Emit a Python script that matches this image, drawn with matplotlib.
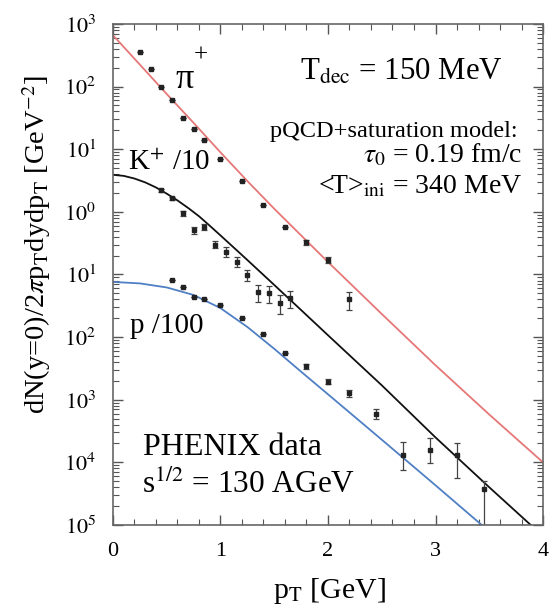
import numpy as np
import matplotlib
matplotlib.use("Agg")
import matplotlib.pyplot as plt
from matplotlib.ticker import LogLocator, MultipleLocator, FixedLocator, FixedFormatter, NullFormatter

plt.rcParams['font.family'] = ['Liberation Serif', 'DejaVu Serif']
plt.rcParams['mathtext.fontset'] = 'stix'

# Model curves (hydro with pQCD+saturation initial conditions), sampled in pT [GeV]
pion_curve_pt = [0.0, 0.25, 0.5, 0.75, 1.0, 1.25, 1.5, 1.75, 2.0, 2.5, 3.0, 3.5, 4.0]
pion_curve = [660, 224, 76, 26.3, 8.9, 3.1, 1.12, 0.42, 0.158, 0.0234, 0.00355, 0.00058, 0.0001]
kaon_curve_pt = [0.0, 0.1, 0.2, 0.3, 0.4, 0.5, 0.6, 0.7, 0.8, 0.9, 1.0, 1.25, 1.5, 1.75, 2.0,
                 2.5, 3.0, 3.5, 3.9]
kaon_curve = [3.9, 3.75, 3.4, 2.95, 2.45, 1.95, 1.52, 1.15, 0.85, 0.60, 0.42, 0.17, 0.068, 0.027,
              0.0107, 0.0017, 0.00025, 0.00004, 0.0000095]
proton_curve_pt = [0.0, 0.25, 0.5, 0.75, 1.0, 1.25, 1.5, 1.75, 2.0, 2.5, 3.0, 3.43]
proton_curve = [0.076, 0.072, 0.062, 0.047, 0.029, 0.0145, 0.0065, 0.0028, 0.00122, 0.00023,
                0.000043, 0.00001]

# PHENIX Au+Au data at sqrt(s) = 130 AGeV
pion_pt = [0.25, 0.35, 0.45, 0.55, 0.65, 0.75, 0.85, 1.0, 1.2, 1.4, 1.6, 1.8, 2.0, 2.2]
pion_y = [363, 190, 98, 62, 32, 21, 14, 7.1, 3.1, 1.29, 0.58, 0.33, 0.17, 0.040]
pion_err = [0, 0, 0, 0, 0, 0, 0, 0, 0, 0, 0, 0.03, 0.02, 0.013]

kaon_pt = [0.45, 0.55, 0.65, 0.75, 0.85, 0.95, 1.05, 1.15, 1.25, 1.35, 1.45, 1.55, 1.65]
kaon_y = [2.2, 1.65, 0.95, 0.51, 0.57, 0.30, 0.23, 0.16, 0.098, 0.052, 0.050, 0.035, 0.042]
kaon_err = [0.1, 0.1, 0.08, 0.06, 0.06, 0.04, 0.04, 0.03, 0.02, 0.015, 0.015, 0.012, 0.013]

proton_pt = [0.55, 0.65, 0.75, 0.85, 1.0, 1.2, 1.4, 1.6, 1.8, 2.0, 2.2, 2.45, 2.7, 2.95, 3.2, 3.45]
proton_y = [0.081, 0.063, 0.044, 0.040, 0.032, 0.020, 0.0112, 0.0056, 0.0034, 0.00195, 0.00126,
            0.0006, 0.000129, 0.000155, 0.000129, 0.000038]
proton_err_lo = [0, 0, 0, 0, 0, 0, 0, 0, 0.0003, 0.0002, 0.00015, 0.0001, 0.000053, 0.000057,
                 0.000073, 0.000029]
proton_err_hi = [0, 0, 0, 0, 0, 0, 0, 0, 0.0003, 0.0002, 0.00015, 0.0001, 0.000085, 0.000090,
                 0.000075, 0.000012]

ytick_vals = [1e3, 1e2, 1e1, 1e0, 1e-1, 1e-2, 1e-3, 1e-4, 1e-5]
ytick_text = ['$10^{3}$', '$10^{2}$', '$10^{1}$', '$10^{0}$', '$10^{1}$', '$10^{2}$', '$10^{3}$',
              '$10^{4}$', '$10^{5}$']

fig = plt.figure(figsize=(5.52, 6.14), dpi=100)
ax = fig.add_axes([0.2047, 0.145, 0.779, 0.816])

ax.plot(pion_curve_pt, pion_curve, color='#e67777', lw=1.3)
ax.plot(kaon_curve_pt, kaon_curve, color='#111111', lw=1.3)
ax.plot(proton_curve_pt, proton_curve, color='#4f7fc4', lw=1.3)

ekw = dict(fmt='s', ms=2.8, color='#222222', ecolor='#444444', elinewidth=0.9, capsize=2.5,
           capthick=0.9)
ax.errorbar(pion_pt, pion_y, yerr=pion_err, **ekw)
ax.errorbar(kaon_pt, kaon_y, yerr=kaon_err, **ekw)
ax.errorbar(proton_pt, proton_y, yerr=[proton_err_lo, proton_err_hi], **ekw)

ax.set_yscale('log')
ax.set_xlim(0, 4)
ax.set_ylim(1e-5, 1e3)

ax.xaxis.set_major_locator(MultipleLocator(1))
ax.xaxis.set_minor_locator(MultipleLocator(0.2))
ax.yaxis.set_major_locator(FixedLocator(ytick_vals))
ax.yaxis.set_major_formatter(FixedFormatter(ytick_text))
ax.yaxis.set_minor_locator(LogLocator(base=10, subs=np.arange(2, 10), numticks=20))
ax.yaxis.set_minor_formatter(NullFormatter())

ax.tick_params(which='both', direction='in', top=True, right=True, color='#555555')
ax.tick_params(which='major', length=7, width=1.0, labelsize=16, pad=12)
ax.tick_params(which='minor', length=4, width=0.8)
for s in ax.spines.values():
    s.set_color('#666666')
    s.set_linewidth(1.2)

# axis titles
fig.text(330 / 552, 1 - 598 / 614, r'p$_{\rm T}$ [GeV]', fontsize=21.5, ha='center', va='baseline')
fig.text(37 / 552, 1 - 245 / 614, r'dN(y=0)/2$\pi$p$_{\rm T}$dydp$_{\rm T}$ [GeV$^{-2}$]',
         fontsize=20.5, rotation=90, ha='center', va='center')

# species labels
ax.text(0.577, 96, 'π', fontsize=26, va='baseline')
ax.text(0.82, 316, '+', fontsize=18, ha='center', va='center')
ax.text(0.14, 4.66, r'K$^{+}$ /10', fontsize=21, va='baseline')
ax.text(0.16, 0.0116, 'p /100', fontsize=21, va='baseline')

# model parameters
ax.text(3.628, 127, r'T$_{\rm dec}$ = 150 MeV', fontsize=22.2, ha='right', va='baseline')
ax.text(3.767, 15.7, 'pQCD+saturation model:', fontsize=17.6, ha='right', va='baseline')
ax.text(3.805, 6.2, r'$\tau_0$ = 0.19 fm/c', fontsize=20, ha='right', va='baseline')
ax.text(3.805, 2.0, r'<T>$_{\rm ini}$ = 340 MeV', fontsize=20, ha='right', va='baseline')

# data set
ax.text(0.28, 1.3e-4, 'PHENIX data', fontsize=23, va='baseline')
ax.text(0.27, 3.3e-5, r's$^{1/2}$ = 130 AGeV', fontsize=22.5, va='baseline')

fig.savefig('out.png', dpi=100)
